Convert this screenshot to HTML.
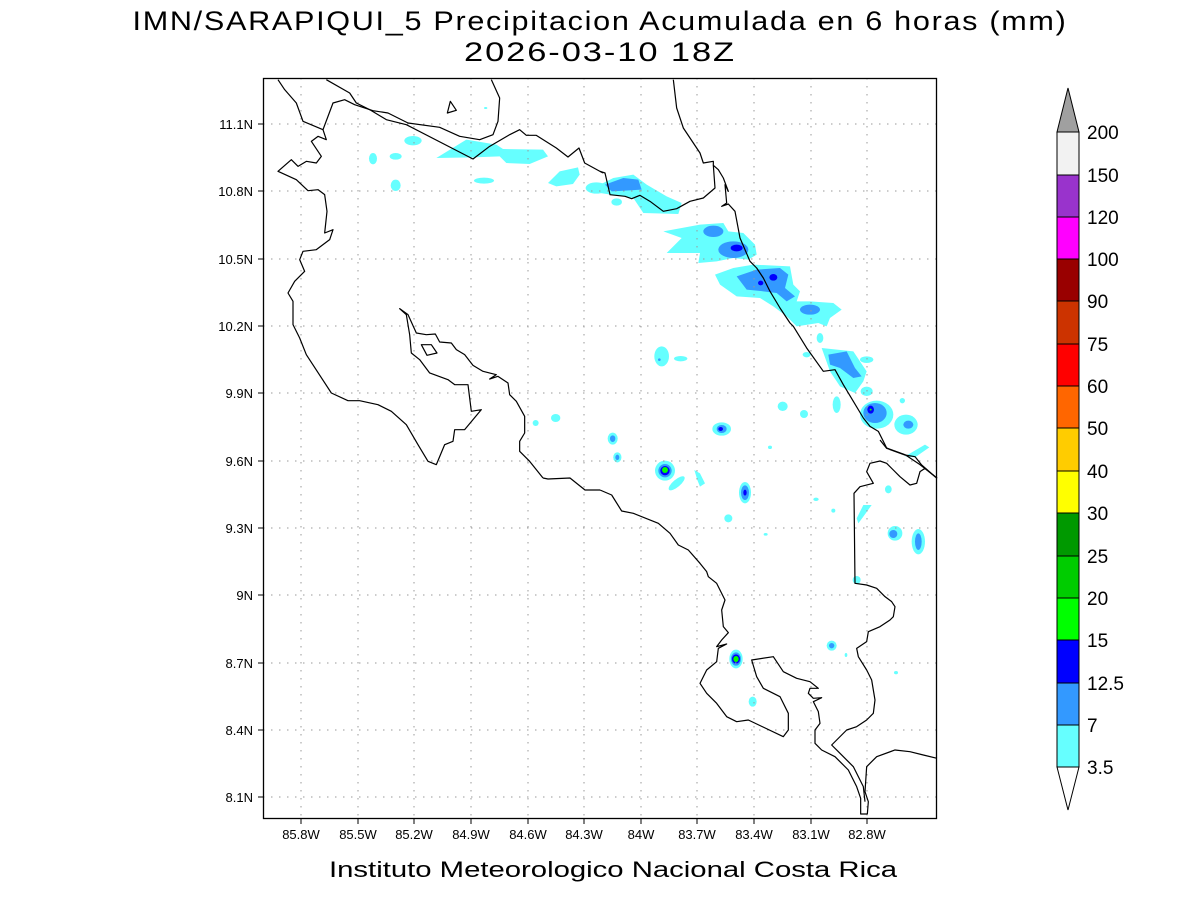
<!DOCTYPE html>
<html><head><meta charset="utf-8"><style>
html,body{margin:0;padding:0;background:#fff;}
svg{display:block;}
text{font-family:"Liberation Sans",sans-serif;fill:#000;}
</style></head><body>
<svg width="1200" height="900" viewBox="0 0 1200 900" xmlns="http://www.w3.org/2000/svg">
<rect width="1200" height="900" fill="#fff"/>
<text x="600" y="30" font-size="27" text-anchor="middle" letter-spacing="1.5" textLength="935" lengthAdjust="spacingAndGlyphs" fill="#222">IMN/SARAPIQUI_5 Precipitacion Acumulada en 6 horas (mm)</text>
<text x="600" y="61" font-size="27" text-anchor="middle" letter-spacing="1.5" textLength="272" lengthAdjust="spacingAndGlyphs" fill="#222">2026-03-10 18Z</text>
<text x="613" y="877" font-size="22" text-anchor="middle" textLength="568" lengthAdjust="spacingAndGlyphs" fill="#333">Instituto Meteorologico Nacional Costa Rica</text>

<g transform="translate(263,78) scale(0.33333)">
<g fill="#66ffff">
<ellipse cx="450" cy="188" rx="26" ry="14"/>
<ellipse cx="330" cy="242" rx="12" ry="17"/>
<ellipse cx="398" cy="235" rx="18" ry="10"/>
<ellipse cx="398" cy="322" rx="15" ry="17"/>
<path d="M520,240 L610,185 L700,200 L720,213 L840,215 L855,235 L800,258 L730,255 L710,235 L630,238 Z"/>
<ellipse cx="663" cy="308" rx="30" ry="9"/>
<path d="M855,315 L890,280 L945,268 L950,290 L930,318 L880,325 Z"/>
<ellipse cx="1000" cy="330" rx="32" ry="17"/>
<ellipse cx="668" cy="90" rx="5" ry="3"/>
<ellipse cx="818" cy="1035" rx="9" ry="9"/>
<ellipse cx="878" cy="1020" rx="14" ry="12"/>
</g>
</g>
<g transform="translate(600,78) scale(0.33333)">
<g fill="#66ffff">
<path d="M0,320 L40,300 L100,290 L140,320 L200,355 L245,375 L235,408 L130,405 L100,360 L0,345 Z"/>
<ellipse cx="50" cy="372" rx="16" ry="11"/>
<path d="M190,460 L300,440 L370,435 L385,460 L430,465 L465,500 L470,530 L445,545 L400,540 L350,550 L295,555 L300,525 L200,525 L245,480 Z"/>
<path d="M345,590 L400,570 L460,560 L570,565 L580,620 L600,640 L590,670 L630,670 L700,675 L725,695 L690,720 L680,745 L655,735 L590,745 L560,715 L520,685 L480,660 L410,655 L360,620 Z"/>
<path d="M665,810 L760,820 L800,880 L790,910 L765,945 L720,925 L690,880 Z"/>
<ellipse cx="800" cy="845" rx="20" ry="10"/>
<ellipse cx="660" cy="780" rx="10" ry="15"/>
<ellipse cx="620" cy="830" rx="12" ry="8"/>
<ellipse cx="185" cy="835" rx="22" ry="30"/>
<ellipse cx="242" cy="842" rx="20" ry="8"/>
<ellipse cx="710" cy="980" rx="12" ry="25"/>
<ellipse cx="548" cy="985" rx="15" ry="14"/>
<ellipse cx="612" cy="1008" rx="12" ry="12"/>
<ellipse cx="800" cy="940" rx="18" ry="14"/>
<ellipse cx="907" cy="968" rx="8" ry="8"/>
<ellipse cx="830" cy="1010" rx="50" ry="42"/>
<ellipse cx="918" cy="1040" rx="35" ry="30"/>
<path d="M915,1135 L975,1100 L988,1108 L945,1138 Z"/>
<ellipse cx="365" cy="1053" rx="28" ry="20"/>
<ellipse cx="38" cy="1082" rx="15" ry="18"/>
<ellipse cx="52" cy="1138" rx="12" ry="15"/>
<ellipse cx="510" cy="1108" rx="6" ry="5"/>
</g>
<g fill="#3399ff">
<path d="M15,320 L70,300 L115,305 L125,335 L35,340 Z"/>
<ellipse cx="340" cy="460" rx="30" ry="17"/>
<ellipse cx="400" cy="515" rx="45" ry="25"/>
<path d="M410,595 L470,575 L540,570 L565,590 L555,630 L585,655 L560,670 L530,645 L490,640 L440,635 Z"/>
<ellipse cx="630" cy="695" rx="30" ry="15"/>
<path d="M685,830 L740,820 L765,870 L785,895 L760,900 L720,870 L690,860 Z"/>
<ellipse cx="825" cy="1005" rx="35" ry="30"/>
<ellipse cx="925" cy="1040" rx="15" ry="12"/>
<ellipse cx="365" cy="1053" rx="15" ry="12"/>
<ellipse cx="38" cy="1082" rx="8" ry="10"/>
<ellipse cx="52" cy="1138" rx="6" ry="8"/>
<ellipse cx="178" cy="845" rx="4" ry="4"/>
</g>
<g fill="#0000ff">
<ellipse cx="410" cy="510" rx="18" ry="10"/>
<ellipse cx="482" cy="615" rx="8" ry="7"/>
<ellipse cx="520" cy="598" rx="12" ry="10"/>
<ellipse cx="812" cy="995" rx="10" ry="12"/>
<ellipse cx="362" cy="1053" rx="7" ry="6"/>
</g>
<ellipse cx="812" cy="995" rx="3" ry="3" fill="#00ff00"/>
</g>
<g transform="translate(600,440) scale(0.33333)">
<g fill="#66ffff">
<ellipse cx="195" cy="92" rx="30" ry="30"/>
<ellipse cx="52" cy="52" rx="12" ry="15"/>
<ellipse cx="230" cy="130" rx="30" ry="11" transform="rotate(-40 230 130)"/>
<path d="M283,90 L300,100 L315,130 L300,140 L292,120 Z"/>
<ellipse cx="435" cy="158" rx="18" ry="32"/>
<ellipse cx="385" cy="235" rx="12" ry="12"/>
<ellipse cx="408" cy="657" rx="20" ry="28"/>
<ellipse cx="458" cy="785" rx="12" ry="15"/>
<ellipse cx="695" cy="617" rx="15" ry="15"/>
<ellipse cx="865" cy="148" rx="10" ry="12"/>
<path d="M770,235 L790,195 L815,195 L790,230 L775,250 Z"/>
<ellipse cx="885" cy="280" rx="22" ry="22"/>
<ellipse cx="955" cy="305" rx="20" ry="38"/>
<ellipse cx="770" cy="420" rx="12" ry="12"/>
<ellipse cx="648" cy="178" rx="8" ry="5"/>
<ellipse cx="700" cy="212" rx="6" ry="6"/>
<ellipse cx="738" cy="645" rx="4" ry="6"/>
<ellipse cx="888" cy="698" rx="6" ry="5"/>
<ellipse cx="497" cy="283" rx="6" ry="4"/>
</g>
<g fill="#3399ff">
<ellipse cx="195" cy="92" rx="20" ry="20"/>
<ellipse cx="52" cy="52" rx="6" ry="8"/>
<ellipse cx="435" cy="158" rx="12" ry="22"/>
<ellipse cx="408" cy="657" rx="15" ry="20"/>
<ellipse cx="695" cy="617" rx="8" ry="8"/>
<ellipse cx="880" cy="282" rx="12" ry="12"/>
<ellipse cx="955" cy="305" rx="10" ry="25"/>
</g>
<g fill="#0000ff">
<ellipse cx="195" cy="92" rx="14" ry="14"/>
<ellipse cx="435" cy="158" rx="5" ry="9"/>
<ellipse cx="408" cy="657" rx="12" ry="14"/>
</g>
<ellipse cx="195" cy="90" rx="9" ry="9" fill="#00ff00"/>
<ellipse cx="408" cy="657" rx="8" ry="9" fill="#00ff00"/>
</g>

<g stroke="#999" stroke-width="1" stroke-dasharray="1.5,6.5">
<line x1="301" y1="78" x2="301" y2="819"/><line x1="358" y1="78" x2="358" y2="819"/><line x1="414" y1="78" x2="414" y2="819"/><line x1="471" y1="78" x2="471" y2="819"/><line x1="528" y1="78" x2="528" y2="819"/><line x1="584" y1="78" x2="584" y2="819"/><line x1="641" y1="78" x2="641" y2="819"/><line x1="697" y1="78" x2="697" y2="819"/><line x1="754" y1="78" x2="754" y2="819"/><line x1="811" y1="78" x2="811" y2="819"/><line x1="867" y1="78" x2="867" y2="819"/>
<line x1="263" y1="124" x2="937" y2="124"/><line x1="263" y1="191" x2="937" y2="191"/><line x1="263" y1="259" x2="937" y2="259"/><line x1="263" y1="326" x2="937" y2="326"/><line x1="263" y1="393" x2="937" y2="393"/><line x1="263" y1="461" x2="937" y2="461"/><line x1="263" y1="528" x2="937" y2="528"/><line x1="263" y1="595" x2="937" y2="595"/><line x1="263" y1="663" x2="937" y2="663"/><line x1="263" y1="730" x2="937" y2="730"/><line x1="263" y1="797" x2="937" y2="797"/>
</g>

<g fill="none" stroke="#000" stroke-width="1.2" stroke-linejoin="round">
<path d="M543,478 L548,479 L570,478 L585,490 L600,490"/>
<g transform="translate(263,78) scale(0.33333)">
<path vector-effect="non-scaling-stroke" d="M45,5 L65,35 L100,75 L120,130 L180,155 L210,75 L245,65 L275,80 L330,98 L375,105 L435,135 L530,148 L590,175 L650,185 L690,170 L705,130 L710,60 L685,5"/>
<path vector-effect="non-scaling-stroke" d="M190,5 L260,45 L280,75 L320,95 L370,125 L430,140 L630,243 L680,205 L740,170 L770,155 L790,172 L820,172 L880,210 L915,237 L948,210 L965,255 L1020,285"/>
<path vector-effect="non-scaling-stroke" d="M180,155 L190,185 L165,175 L145,190 L175,235 L160,255 L130,250 L105,265 L85,245 L45,280 L100,305 L135,338 L165,335 L185,350 L192,400 L185,465 L210,455 L200,485 L160,515 L120,520 L110,545 L125,580 L95,610 L75,645 L90,670 L90,740 L110,780 L130,830 L205,945 L255,968 L290,968 L345,980 L385,1000 L430,1040 L465,1100 L495,1150 L520,1160 L545,1100 L570,1090 L575,1055 L605,1055 L655,995 L625,1000 L615,920 L575,920 L555,905 L500,885 L470,845 L445,825 L440,770 L430,710 L410,692 L435,710 L460,765 L490,770 L517,768 L530,792 L565,795 L580,815 L605,830 L630,862 L660,880 L700,890 L680,903 L705,895 L735,915 L740,950 L760,970 L785,1015 L785,1065 L770,1090 L770,1120 L800,1150 L840,1200"/>
<path vector-effect="non-scaling-stroke" d="M475,800 L505,800 L522,825 L492,832 Z"/>
<path vector-effect="non-scaling-stroke" d="M553,105 L562,70 L580,97 Z"/>
</g>
<g transform="translate(600,78) scale(0.33333)">
<path vector-effect="non-scaling-stroke" d="M0,280 L15,285 L30,350 L75,355 L95,362 L120,352 L150,370 L190,400 L230,392 L270,370 L310,360 L345,330 L340,262 L355,275 L370,300 L385,340 L375,320 L380,375 L365,385 L385,378 L405,400 L420,480 L450,550 L470,570 L490,600 L510,640 L540,690 L570,735 L580,745 L620,810 L670,880 L705,875 L730,920 L760,970 L790,1020 L810,1045 L835,1060 L860,1110 L915,1130 L960,1160 L1011,1200"/>
<path vector-effect="non-scaling-stroke" d="M220,5 L230,90 L250,150 L300,225 L310,255 L340,250 L340,262"/>
</g>
<g transform="translate(600,440) scale(0.33333)">
<path vector-effect="non-scaling-stroke" d="M0,150 L35,165 L65,213 L100,220 L175,250 L210,280 L235,315 L265,330 L300,370 L320,395 L325,410 L350,430 L375,480 L365,510 L370,560 L385,578 L365,600 L350,620 L380,612 L355,625 L350,665 L320,690 L300,730 L320,760 L350,790 L380,830 L410,845 L445,840 L550,890 L565,870 L565,820 L540,770 L490,745 L470,710 L455,660 L520,650 L550,695 L590,715 L630,725 L655,745 L630,745 L625,760 L640,775 L665,773 L640,785 L655,815 L660,850 L645,870 L645,910 L665,930 L705,950 L745,990 L770,1040 L782,1075 L782,1122 L802,1122 L805,1085 L795,1055 L798,1010 L800,980 L830,950 L885,930 L930,935 L970,945 L1011,955"/>
<path vector-effect="non-scaling-stroke" d="M795,1085 L790,1040 L760,980 L720,940 L695,915 L740,870 L770,860 L800,840 L820,820 L825,780 L815,720 L800,690 L775,650 L770,625 L800,605 L805,575 L840,560 L870,540 L880,530 L885,500 L875,485 L855,470 L830,445 L800,435 L765,430 L762,160 L780,140 L820,130 L800,95 L810,70 L840,63 L860,70 L880,90 L900,110 L930,135 L950,130 L960,95 L975,85 L1011,115"/>
<path vector-effect="non-scaling-stroke" d="M840,0 L860,25 L915,45 L945,50 L965,75 L1011,115"/>
</g>
</g>

<rect x="263.5" y="78.5" width="673" height="740" fill="none" stroke="#000" stroke-width="1.3"/>

<g stroke="#000" stroke-width="1">
<path d="M301,819v5M358,819v5M414,819v5M471,819v5M528,819v5M584,819v5M641,819v5M697,819v5M754,819v5M811,819v5M867,819v5"/>
<path d="M263,124h-5M263,191h-5M263,259h-5M263,326h-5M263,393h-5M263,461h-5M263,528h-5M263,595h-5M263,663h-5M263,730h-5M263,797h-5"/>
</g>
<g font-size="13" text-anchor="end">
<text x="253" y="129">11.1N</text><text x="253" y="196">10.8N</text><text x="253" y="264">10.5N</text><text x="253" y="331">10.2N</text><text x="253" y="398">9.9N</text><text x="253" y="466">9.6N</text><text x="253" y="533">9.3N</text><text x="253" y="600">9N</text><text x="253" y="668">8.7N</text><text x="253" y="735">8.4N</text><text x="253" y="802">8.1N</text>
</g>
<g font-size="13" text-anchor="middle">
<text x="301" y="839">85.8W</text><text x="358" y="839">85.5W</text><text x="414" y="839">85.2W</text><text x="471" y="839">84.9W</text><text x="528" y="839">84.6W</text><text x="584" y="839">84.3W</text><text x="641" y="839">84W</text><text x="697" y="839">83.7W</text><text x="754" y="839">83.4W</text><text x="811" y="839">83.1W</text><text x="867" y="839">82.8W</text>
</g>

<g stroke="#000" stroke-width="1">
<path d="M1068,88 L1079,132 L1057,132 Z" fill="#a0a0a0"/>
<rect x="1057" y="132" width="22" height="43" fill="#f2f2f2"/>
<rect x="1057" y="175" width="22" height="42" fill="#9933cc"/>
<rect x="1057" y="217" width="22" height="42" fill="#ff00ff"/>
<rect x="1057" y="259" width="22" height="42" fill="#990000"/>
<rect x="1057" y="301" width="22" height="43" fill="#cc3300"/>
<rect x="1057" y="344" width="22" height="42" fill="#ff0000"/>
<rect x="1057" y="386" width="22" height="42" fill="#ff6600"/>
<rect x="1057" y="428" width="22" height="43" fill="#ffcc00"/>
<rect x="1057" y="471" width="22" height="42" fill="#ffff00"/>
<rect x="1057" y="513" width="22" height="43" fill="#009900"/>
<rect x="1057" y="556" width="22" height="42" fill="#00cc00"/>
<rect x="1057" y="598" width="22" height="42" fill="#00ff00"/>
<rect x="1057" y="640" width="22" height="43" fill="#0000ff"/>
<rect x="1057" y="683" width="22" height="42" fill="#3399ff"/>
<rect x="1057" y="725" width="22" height="42" fill="#66ffff"/>
<path d="M1057,767 L1079,767 L1068,810 Z" fill="#fff"/>
</g>
<g font-size="19">
<text x="1087" y="139">200</text><text x="1087" y="182">150</text><text x="1087" y="224">120</text><text x="1087" y="266">100</text><text x="1087" y="308">90</text><text x="1087" y="351">75</text><text x="1087" y="393">60</text><text x="1087" y="435">50</text><text x="1087" y="478">40</text><text x="1087" y="520">30</text><text x="1087" y="563">25</text><text x="1087" y="605">20</text><text x="1087" y="647">15</text><text x="1087" y="690">12.5</text><text x="1087" y="732">7</text><text x="1087" y="774">3.5</text>
</g>
</svg>
</body></html>
